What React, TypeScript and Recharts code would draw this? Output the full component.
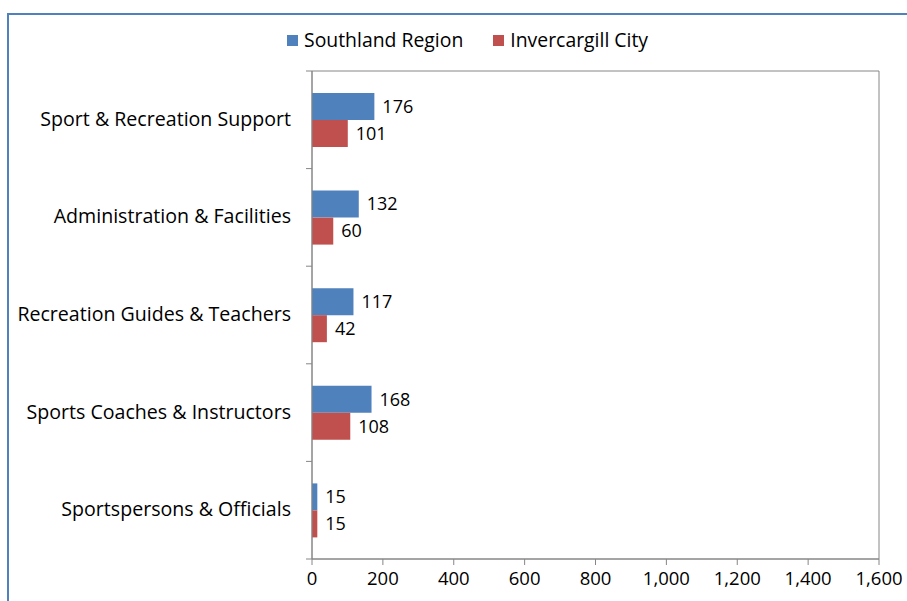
import { BarChart, Bar, XAxis, YAxis, LabelList, ReferenceArea } from 'recharts';

const categories = [
    'Sport & Recreation Support',
    'Administration & Facilities',
    'Recreation Guides & Teachers',
    'Sports Coaches & Instructors',
    'Sportspersons & Officials',
];
const southland = [176, 132, 117, 168, 15];
const invercargill = [101, 60, 42, 108, 15];
const xTicks = [0, 200, 400, 600, 800, 1000, 1200, 1400, 1600];

const FONT = '"Open Sans", Lato, sans-serif';
const PLOT_TOP = 71;
const PLOT_BOTTOM = 559;
const BAND = (PLOT_BOTTOM - PLOT_TOP) / categories.length;

const data = categories.map((name, i) => ({
    name,
    southland: southland[i],
    invercargill: invercargill[i],
}));

const CatTick = ({ x, y, payload, index }: any) => {
    const axisX = x + 21;
    return (
        <g>
            <text x={x} y={y} dy={6} textAnchor="end" fontSize={19.6} fill="#000" fontFamily={FONT}>
                {payload.value}
            </text>
            <line x1={axisX - 6} x2={axisX} y1={y - BAND / 2} y2={y - BAND / 2} stroke="#868686" />
            {index === categories.length - 1 && (
                <line x1={axisX - 6} x2={axisX} y1={y + BAND / 2} y2={y + BAND / 2} stroke="#868686" />
            )}
        </g>
    );
};

export default function App() {
    return (
        <div style={{ position: 'absolute', left: 0, top: 0, width: 907, height: 601, background: '#fff', overflow: 'hidden' }}>
            <div style={{ position: 'absolute', left: 7, top: 13, width: 940, height: 640, border: '2px solid #4f81bd', boxSizing: 'border-box' }} />
            {/* legend */}
            <div style={{ position: 'absolute', left: 287, top: 28, display: 'flex', alignItems: 'center', fontFamily: FONT, fontSize: 19.4, color: '#000', lineHeight: '24px' }}>
                <div style={{ width: 11, height: 11, background: '#4f81bd', marginRight: 6 }} />
                <span style={{ marginRight: 30 }}>Southland Region</span>
                <div style={{ width: 11, height: 11, background: '#c0504d', marginRight: 6 }} />
                <span>Invercargill City</span>
            </div>
            <BarChart
                width={907}
                height={601}
                data={data}
                layout="vertical"
                margin={{ top: PLOT_TOP, right: 28, bottom: 601 - PLOT_BOTTOM - 30, left: 0 }}
                barGap={0}
                barCategoryGap="22%"
            >
                <XAxis
                    type="number"
                    domain={[0, 1600]}
                    ticks={xTicks}
                    tickFormatter={(v: number) => v.toLocaleString('en-US')}
                    height={30}
                    stroke="#868686"
                    tickSize={6}
                    tickMargin={7}
                    tick={{ fill: '#000', fontSize: 18.5, fontFamily: FONT }}
                />
                <YAxis
                    type="category"
                    dataKey="name"
                    width={312}
                    stroke="#868686"
                    tickLine={false}
                    tickSize={0}
                    tickMargin={21}
                    tick={<CatTick />}
                />
                <ReferenceArea x1={0} x2={1600} fill="none" stroke="#868686" strokeWidth={1} />
                <Bar dataKey="southland" name="Southland Region" fill="#4f81bd" barSize={27} isAnimationActive={false}>
                    <LabelList dataKey="southland" position="right" offset={8} fill="#000" fontSize={18} fontFamily={FONT} />
                </Bar>
                <Bar dataKey="invercargill" name="Invercargill City" fill="#c0504d" barSize={27} isAnimationActive={false}>
                    <LabelList dataKey="invercargill" position="right" offset={8} fill="#000" fontSize={18} fontFamily={FONT} />
                </Bar>
            </BarChart>
        </div>
    );
}
